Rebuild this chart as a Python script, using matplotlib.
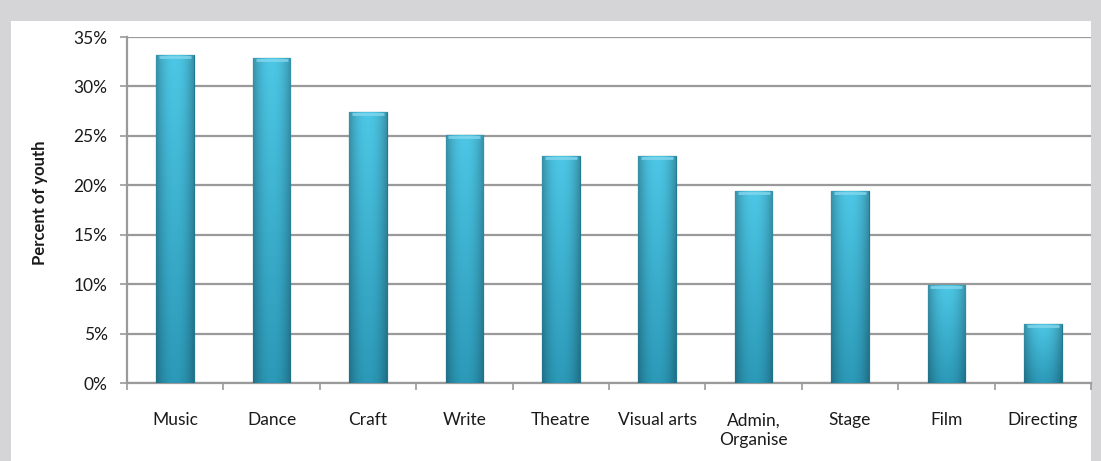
import numpy as np
import matplotlib
matplotlib.use("Agg")
import matplotlib.pyplot as plt
from matplotlib.patches import Rectangle
from matplotlib.ticker import FuncFormatter, FixedLocator

categories = ["Music", "Dance", "Craft", "Write", "Theatre", "Visual arts",
              "Admin,\nOrganise", "Stage", "Film", "Directing"]
percent_youth = [33.2, 32.9, 27.4, 25.1, 23.0, 23.0, 19.4, 19.4, 9.9, 6.0]
y_ticks = [0, 5, 10, 15, 20, 25, 30, 35]

plt.rcParams["font.family"] = ["Lato", "DejaVu Sans"]

fig = plt.figure(figsize=(11.01, 4.61), dpi=100)
fig.patch.set_facecolor("#d5d5d7")

# white card behind the chart
card = Rectangle((11 / 1101, 0), (1091 - 11) / 1101, (461 - 21) / 461,
                 transform=fig.transFigure, facecolor="white", edgecolor="none", zorder=-5)
fig.patches.append(card)

ax = fig.add_axes([127 / 1101, (461 - 383) / 461, (1091 - 127) / 1101, (383 - 37) / 461])
ax.set_facecolor("none")
ax.set_zorder(2)

x = np.arange(len(categories))
bars = ax.bar(x, percent_youth, width=0.39, color="#3bb5d5", edgecolor="#21798f",
              linewidth=0.9, zorder=3)

# bar shading: lighter top, deeper base, darker sides
hx = np.linspace(-1, 1, 200)
side = 1 - 0.28 * np.abs(hx) ** 2.2
vy = np.linspace(0, 1, 200)[:, None]          # 0 = base, 1 = top
top = np.array([0.30, 0.78, 0.90])
base = np.array([0.17, 0.60, 0.72])
col = base[None, None, :] + (top - base)[None, None, :] * vy[:, :, None]
img = np.clip(col * side[None, :, None], 0, 1)
for b in bars:
    x0, w, h = b.get_x(), b.get_width(), b.get_height()
    im = ax.imshow(img, extent=(x0, x0 + w, 0, h), aspect="auto", zorder=3.5,
                   origin="lower", interpolation="bilinear")
    im.set_clip_path(b)
    # soft bevel along the top edge
    ax.plot([x0 + 0.03, x0 + w - 0.03], [h - 0.2, h - 0.2], color="#86d8ee",
            lw=2.0, alpha=0.8, zorder=4, solid_capstyle="butt")

ax.set_xlim(-0.5, len(categories) - 0.5)
ax.set_ylim(0, 35)
ax.yaxis.set_major_locator(FixedLocator(y_ticks))
ax.yaxis.set_major_formatter(FuncFormatter(lambda v, p: f"{v:.0f}%"))
ax.grid(axis="y", color="#9a9a9a", linewidth=1.6, zorder=1)
ax.set_axisbelow(True)

ax.set_xticks(x)
ax.set_xticklabels(categories, fontsize=12.5, color="#1a1a1a", va="top", linespacing=1.3)
ax.tick_params(axis="x", length=0, pad=21)
ax.set_xticks(np.arange(len(categories) + 1) - 0.5, minor=True)
ax.tick_params(axis="x", which="minor", length=5, color="#9a9a9a", width=1.2)
ax.tick_params(axis="y", length=5, color="#9a9a9a", width=1.2, labelsize=12.5,
               labelcolor="#1a1a1a", pad=9)

for s in ["top", "right"]:
    ax.spines[s].set_visible(False)
for s in ["left", "bottom"]:
    ax.spines[s].set_color("#9a9a9a")
    ax.spines[s].set_linewidth(1.6)

fig.text(40 / 1101, 1 - 203 / 461, "Percent of youth", rotation=90, ha="center",
         va="center", fontsize=12, fontweight="bold", color="#1a1a1a")

fig.savefig("out.png", dpi=100, facecolor=fig.get_facecolor())
